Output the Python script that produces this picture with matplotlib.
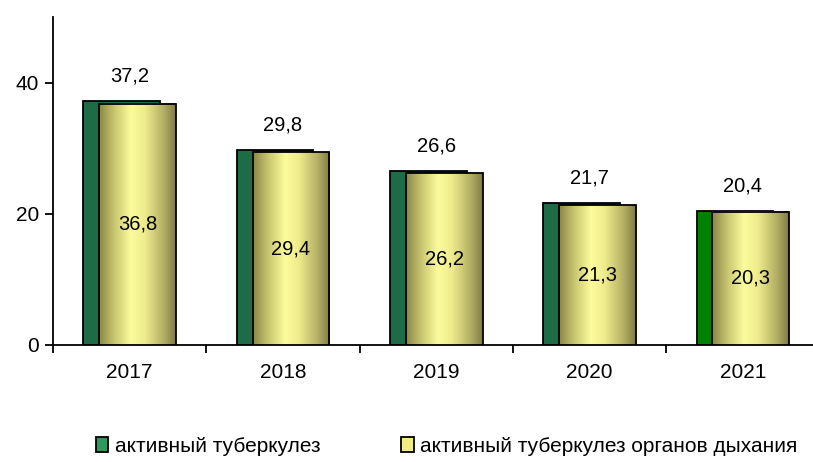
import numpy as np
import matplotlib.pyplot as plt
from matplotlib.patches import Rectangle
from matplotlib.colors import LinearSegmentedColormap

plt.rcParams['font.family'] = ['Liberation Sans', 'DejaVu Sans']

years = ['2017', '2018', '2019', '2020', '2021']
active = [37.2, 29.8, 26.6, 21.7, 20.4]
respiratory = [36.8, 29.4, 26.2, 21.3, 20.3]
green_colors = ['#1e6b48', '#1e6b48', '#1e6b48', '#1e6b48', '#008000']
labels = ['активный туберкулез', 'активный туберкулез органов дыхания']

def fmt(v):
    return f'{v:.1f}'.replace('.', ',')

fig = plt.figure(figsize=(8.13, 4.62), dpi=100)
ax = fig.add_axes([53 / 813, (462 - 345) / 462, 760 / 813, 328 / 462])

w = 0.5
off = 0.052
x = np.arange(len(years))

# тёмно-зелёные столбцы сзади
ax.bar(x - off, active, w, color=green_colors, edgecolor='black', lw=1.3, zorder=2)

# жёлтые "цилиндры" с градиентом
cmap = LinearSegmentedColormap.from_list('cyl', [
    (0.0, '#8a8646'), (0.2, '#c9c671'), (0.42, '#fcfc9c'),
    (0.6, '#eeeb8c'), (0.85, '#b1ad63'), (1.0, '#7f7b42')])
grad = np.linspace(0, 1, 256).reshape(1, -1)
for xi, v in zip(x, respiratory):
    x0 = xi + off - w / 2
    ax.imshow(grad, cmap=cmap, aspect='auto', extent=[x0, x0 + w, 0, v],
              zorder=3, interpolation='bilinear')
    ax.add_patch(Rectangle((x0, 0), w, v, fill=False, edgecolor='black', lw=1.3, zorder=4))
    ax.text(xi + off, v / 2, fmt(v), ha='center', va='center', fontsize=14.5, zorder=5)

for xi, v in zip(x, active):
    ax.annotate(fmt(v), (xi, v), xytext=(0, 18), textcoords='offset points',
                ha='center', va='center', fontsize=14.5)

ax.set_yticks([0, 20, 40])
ax.set_xticks(x)
ax.set_xticklabels(years)
ax.set_xticks(np.arange(len(years) + 1) - 0.5, minor=True)
# лимиты после тиков, иначе set_xticks их расширяет
ax.set_xlim(-0.5, -0.5 + 760 / 153.3)
ax.set_ylim(0, 50)
ax.tick_params(axis='x', which='major', length=0, pad=13, labelsize=15)
ax.tick_params(axis='x', which='minor', length=6, width=1.3, direction='out')
ax.tick_params(axis='y', length=6, width=1.3, labelsize=15, pad=4)
for s in ['top', 'right']:
    ax.spines[s].set_visible(False)
for s in ['left', 'bottom']:
    ax.spines[s].set_linewidth(1.3)

h1 = Rectangle((0, 0), 1, 1, facecolor='#2e9a62', edgecolor='black', lw=1.3)
h2 = Rectangle((0, 0), 1, 1, facecolor='#f0ec86', edgecolor='black', lw=1.3)
fig.legend([h1, h2], labels, loc='center', bbox_to_anchor=(0.5495, 1 - 446 / 462),
           ncol=2, frameon=False, fontsize=15, handlelength=0.6, handleheight=0.7,
           handletextpad=0.3, columnspacing=3.9)

fig.savefig('out.png', dpi=100)
